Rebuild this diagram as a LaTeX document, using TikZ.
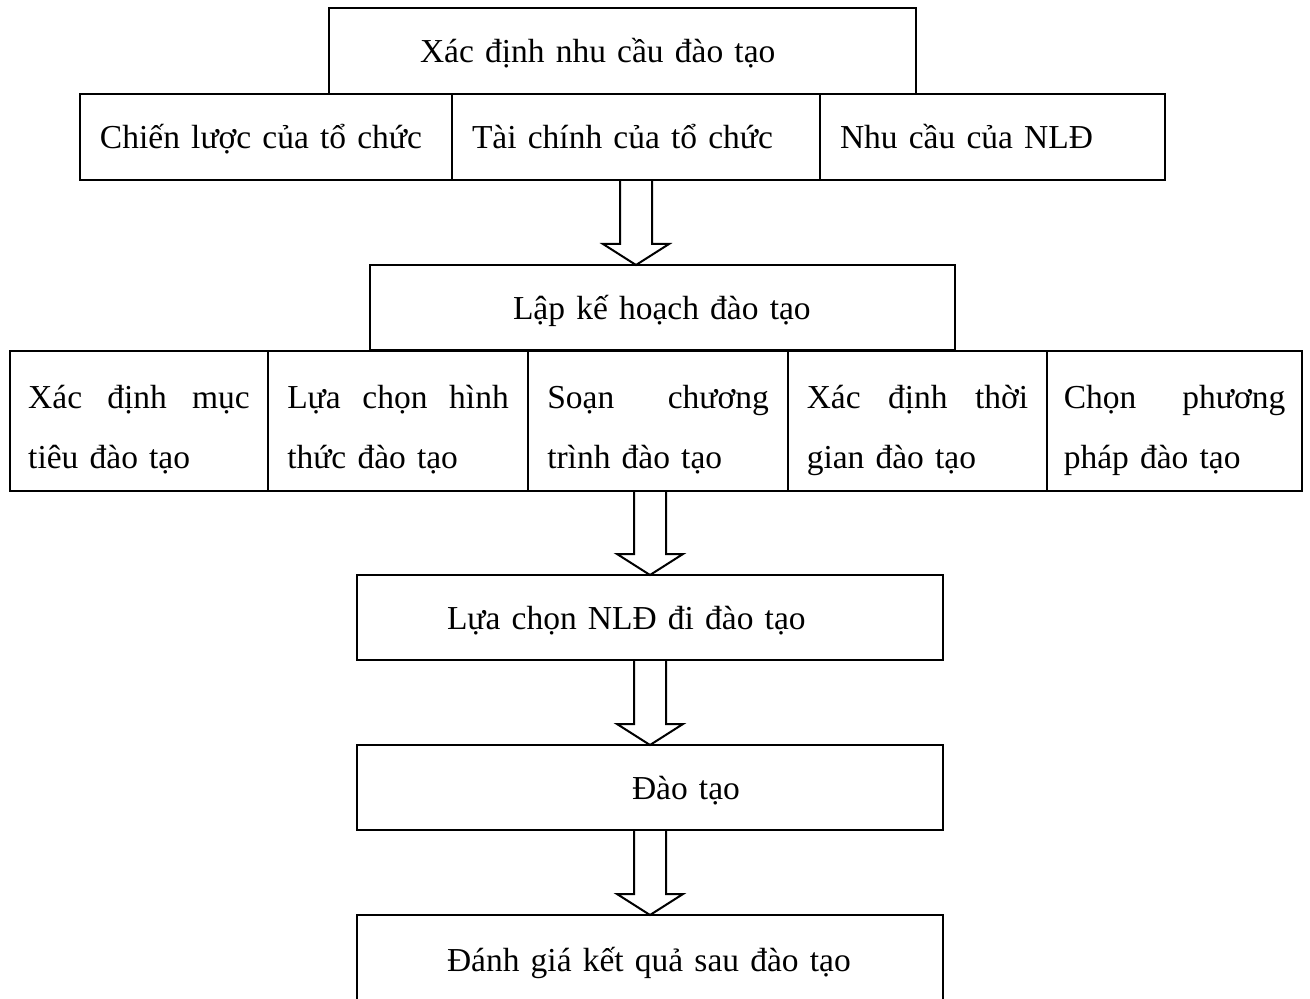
\documentclass[tikz,border=0pt]{standalone}
\usepackage{fontspec}
\setmainfont{Liberation Serif}
\usetikzlibrary{calc}
\newcommand{\spread}[1]{\hbox to 88.6pt{#1}}

\begin{document}
\begin{tikzpicture}[
        x=0.4pt, y=-0.4pt,
        every node/.style={font=\fontsize{13.4}{24}\selectfont},
        box/.style={rectangle, draw, line width=0.8pt, inner sep=0pt, outer sep=0pt, align=left, text height=12.6pt, text depth=3pt},
        single/.style={box, minimum height=34.4pt, minimum width=234.4pt, text width=234.4pt},
        cell/.style={box, minimum height=34.4pt, lead=8pt},
        part/.style={box, minimum height=56pt, text width=88.6pt, text depth=23pt},
        lead/.style={execute at begin node={\hspace*{#1}}},
        hollow/.style={line width=0.8pt, line join=miter, to path={
            let \p1=(\tikztostart), \p2=(\tikztotarget) in
            (\x2-6.4pt,\y1) -- (\x2-6.4pt,\y2+8.4pt) -- (\x2-13.2pt,\y2+8.4pt) -- (\x2,\y2)
            -- (\x2+13.2pt,\y2+8.4pt) -- (\x2+6.4pt,\y2+8.4pt) -- (\x2+6.4pt,\y1)}}
    ]
        \useasboundingbox (0,0) rectangle (1310,998);

        % xac dinh nhu cau
        \node[single, minimum width=234.8pt, text width=234.8pt, lead=36.4pt] (need) at (622.5,51) {Xác định nhu cầu đào tạo};
        \node[cell, minimum width=148.8pt, text width=148.8pt] (r1a) at (266,137) {Chiến lược của tổ chức};
        \node[cell, minimum width=147.2pt, text width=147.2pt] (r1b) at (636,137) {Tài chính của tổ chức};
        \node[cell, minimum width=138pt, text width=138pt] (r1c) at (992.5,137) {Nhu cầu của NLĐ};

        % lap ke hoach
        \node[single, minimum width=234pt, minimum height=34pt, text width=234pt, lead=57.2pt] (plan) at (662.5,307.5) {Lập kế hoạch đào tạo};
        \node[part, minimum width=103.2pt] (r2a) at (139,421) {\spread{Xác\hfill định\hfill mục}\\tiêu đào tạo};
        \node[part, minimum width=104pt] (r2b) at (398,421) {\spread{Lựa\hfill chọn\hfill hình}\\thức đào tạo};
        \node[part, minimum width=104pt] (r2c) at (658,421) {\spread{Soạn\hfill chương}\\trình đào tạo};
        \node[part, minimum width=103.6pt] (r2d) at (917.5,421) {\spread{Xác\hfill định\hfill thời}\\gian đào tạo};
        \node[part, minimum width=102pt] (r2e) at (1174.5,421) {\spread{Chọn\hfill phương}\\pháp đào tạo};

        % cac buoc sau
        \node[single, minimum height=34pt, lead=36pt] (pick) at (650,617.5) {Lựa chọn NLĐ đi đào tạo};
        \node[single, minimum height=34pt, lead=110pt] (train) at (650,787.5) {Đào tạo};
        \node[single, minimum height=35.2pt, lead=36pt] (eval) at (650,959) {Đánh giá kết quả sau đào tạo};

        \draw[hollow] (r1b.south) to (r1b.south |- plan.north);
        \draw[hollow] (r2c.south -| pick.north) to (pick.north);
        \draw[hollow] (pick.south) to (train.north);
        \draw[hollow] (train.south) to (eval.north);

    \end{tikzpicture}
\end{document}
